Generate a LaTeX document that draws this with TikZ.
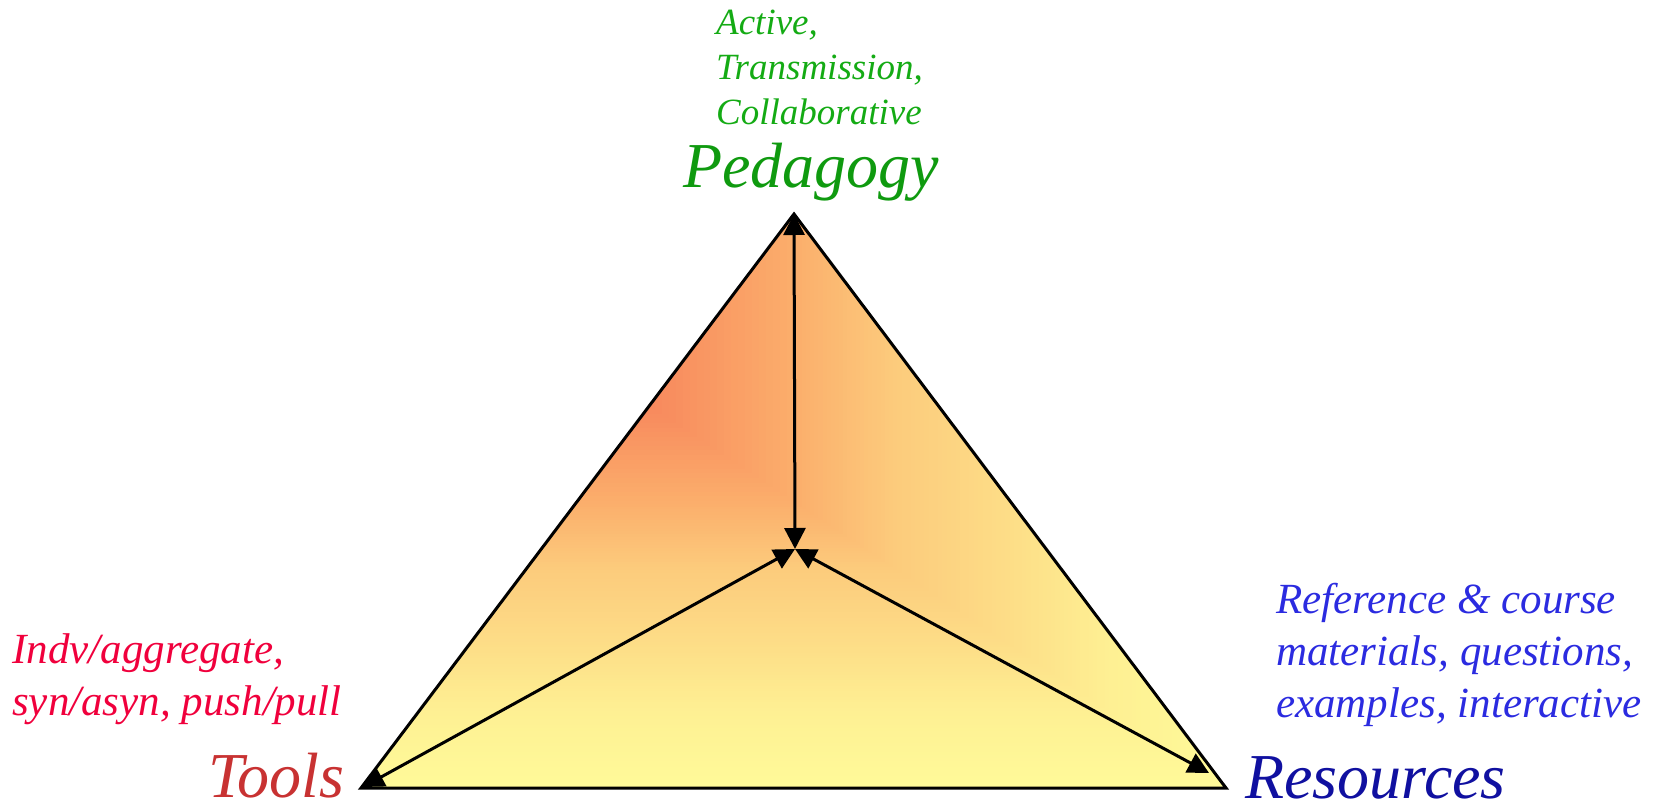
\documentclass[tikz,border=0pt]{standalone}
\usepackage{fontspec}
\setmainfont{Liberation Serif}
\usetikzlibrary{arrows.meta}
% stops of the corner gradient (value t = 0 at the top-left corner of the box)
\definecolor{sh0}{HTML}{F7805A}
\definecolor{sh1}{HTML}{FBAD6B}
\definecolor{sh2}{HTML}{FCCB7C}
\definecolor{sh3}{HTML}{FDDD87}
\definecolor{sh4}{HTML}{FEF093}
\definecolor{sh5}{HTML}{FFFA99}
% text colours
\definecolor{pedgreen}{HTML}{0F9A0F}
\definecolor{pednote}{HTML}{14AB14}
\definecolor{toolred}{HTML}{C83232}
\definecolor{toolnote}{HTML}{F0003C}
\definecolor{resblue}{HTML}{1010A0}
\definecolor{resnote}{HTML}{2B2BE0}
\begin{document}
\begin{tikzpicture}[x=1pt,y=-1pt,
  frame/.style={line width=3pt, line join=miter},
  link/.style={line width=3pt,
    {Triangle[length=21pt,width=21pt]}-{Triangle[length=21pt,width=21pt]}},
  lbl/.style={inner sep=0pt, anchor=base west},
  bigfont/.style={font=\itshape\fontsize{64}{64}\selectfont},
  notefont/.style={font=\itshape\fontsize{43}{52}\selectfont},
]
\useasboundingbox (0,0) rectangle (1658,799);

% corners of the triangle and the meeting point of the arrows
\coordinate (P) at (794,214);
\coordinate (T) at (361,788);
\coordinate (R) at (1226,788);
\coordinate (C) at (795,549);
\coordinate (Te) at (363,787);
\coordinate (Re) at (1209,773);

% corner gradient fill
\begin{scope}
  \clip (P) -- (T) -- (R) -- cycle;
  \foreach \ca/\cb/\ta/\tb in {sh5/sh4/1.00/0.87, sh4/sh3/0.87/0.75,
      sh3/sh2/0.75/0.62, sh2/sh1/0.62/0.50, sh1/sh0/0.50/0.30} {
    \foreach \i in {0,...,24} {
      \pgfmathsetmacro\tval{\ta-(\ta-\tb)*\i/25}
      \pgfmathsetmacro\pval{100*\i/25}
      \fill[\cb!\pval!\ca] (361,214) rectangle ++(865*\tval,574*\tval);
    }
  }
\end{scope}

\draw[frame] (P) -- (T) -- (R) -- cycle;
\draw[link] (C) -- (P);
\draw[link] (C) -- (Te);
\draw[link] (C) -- (Re);

% labels (a multi-line label sits on the baseline of its last line)
\node[lbl, text=pednote, align=left, font=\itshape\fontsize{37}{45}\selectfont]
  (pednotes) at (716,125) {Active,\\Transmission,\\Collaborative};
\node[lbl, bigfont, text=pedgreen] (ped) at (683,188) {Pedagogy};
\node[lbl, notefont, text=toolnote, align=left]
  (toolnotes) at (12,715) {Indv/aggregate,\\syn/asyn, push/pull};
\node[lbl, bigfont, text=toolred] (tools) at (208,797) {Tools};
\node[lbl, notefont, text=resnote, align=left]
  (resnotes) at (1276,717) {Reference \& course\\materials, questions,\\examples, interactive};
\node[lbl, bigfont, text=resblue] (res) at (1245,798) {Resources};
\end{tikzpicture}
\end{document}
